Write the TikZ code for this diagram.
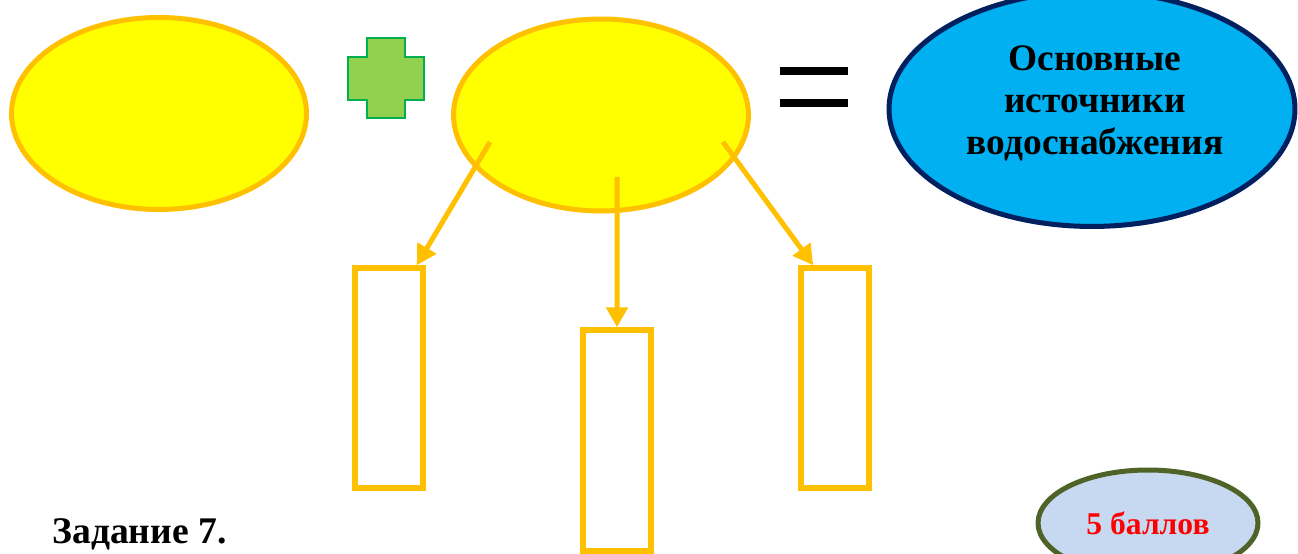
\documentclass[tikz,border=0pt]{standalone}
\usepackage{fontspec}
\setmainfont{Liberation Serif}
\usepackage{tikz}
\usetikzlibrary{arrows.meta,shapes.geometric}

\definecolor{ovalfill}{HTML}{FFFF00}
\definecolor{ovalline}{HTML}{FFC000}
\definecolor{plusfill}{HTML}{92D050}
\definecolor{plusline}{HTML}{00B050}
\definecolor{watfill}{HTML}{00B0F0}
\definecolor{watline}{HTML}{002060}
\definecolor{scorefill}{HTML}{C6D9F1}
\definecolor{scoreline}{HTML}{4F6228}

\begin{document}
\begin{tikzpicture}[x=0.02cm,y=0.02cm,>={Triangle[length=0.4cm,width=0.42cm]},
	oval/.style={shape=ellipse,draw=ovalline,fill=ovalfill,line width=0.1cm,
		minimum width=5.9cm,minimum height=3.84cm,inner sep=0pt},
	slot/.style={shape=rectangle,draw=ovalline,line width=0.11cm,
		minimum width=1.36cm,minimum height=4.4cm,inner sep=0pt},
	feed/.style={->,draw=ovalline,fill=ovalline,line width=0.1cm}]
	\useasboundingbox (0,0) rectangle (1298,554);
	\clip (0,0) rectangle (1298,554);

	\node (first) [oval] at (159,440.5) {};
	\node (second) [oval] at (601,439) {};
	\node (sources) [shape=ellipse,draw=watline,fill=watfill,line width=0.1cm,
		minimum width=8.12cm,minimum height=4.7cm,inner sep=0pt] at (1092,445) {};
	\node (sourcestext) [align=center,font=\bfseries\fontsize{21.3}{24}\selectfont] at (1095,450.5)
		{Основные\\источники\\водоснабжения};

	% plus and equals
	\begin{scope}[shift={(386,475.5)}]
		\draw[draw=plusline,fill=plusfill,line width=0.04cm]
			(-19,40) -- (19,40) -- (19,21.5) -- (38,21.5) -- (38,-21.5) -- (19,-21.5)
			-- (19,-40) -- (-19,-40) -- (-19,-21.5) -- (-38,-21.5) -- (-38,21.5)
			-- (-19,21.5) -- cycle;
	\end{scope}
	\fill[black] (780,479) rectangle (848,487);
	\fill[black] (780,447) rectangle (848,455);

	\node (box1) [slot] at (389,176) {};
	\node (box2) [slot,minimum height=4.42cm] at (617,113.5) {};
	\node (box3) [slot] at (835,176) {};

	\coordinate (from1) at ([shift={(-2.22cm,-0.54cm)}]second.center);
	\coordinate (from2) at ([shift={(0.32cm,-1.24cm)}]second.center);
	\coordinate (from3) at ([shift={(2.44cm,-0.54cm)}]second.center);

	\path (from1) edge[feed] ([xshift=-0.18cm]box1.north east);
	\path (from2) edge[feed] (box2.north);
	\path (from3) edge[feed] ([xshift=0.3cm]box3.north west);

	\node (score) [shape=ellipse,draw=scoreline,fill=scorefill,line width=0.1cm,
		minimum width=4.4cm,minimum height=2.12cm,inner sep=0pt,text=red,
		font=\bfseries\fontsize{18}{22}\selectfont] at (1148,31) {5 баллов};
	\node (task) [anchor=base west,inner sep=0pt,font=\bfseries\fontsize{21.4}{26}\selectfont] at (52,10) {Задание 7.};
\end{tikzpicture}
\end{document}
